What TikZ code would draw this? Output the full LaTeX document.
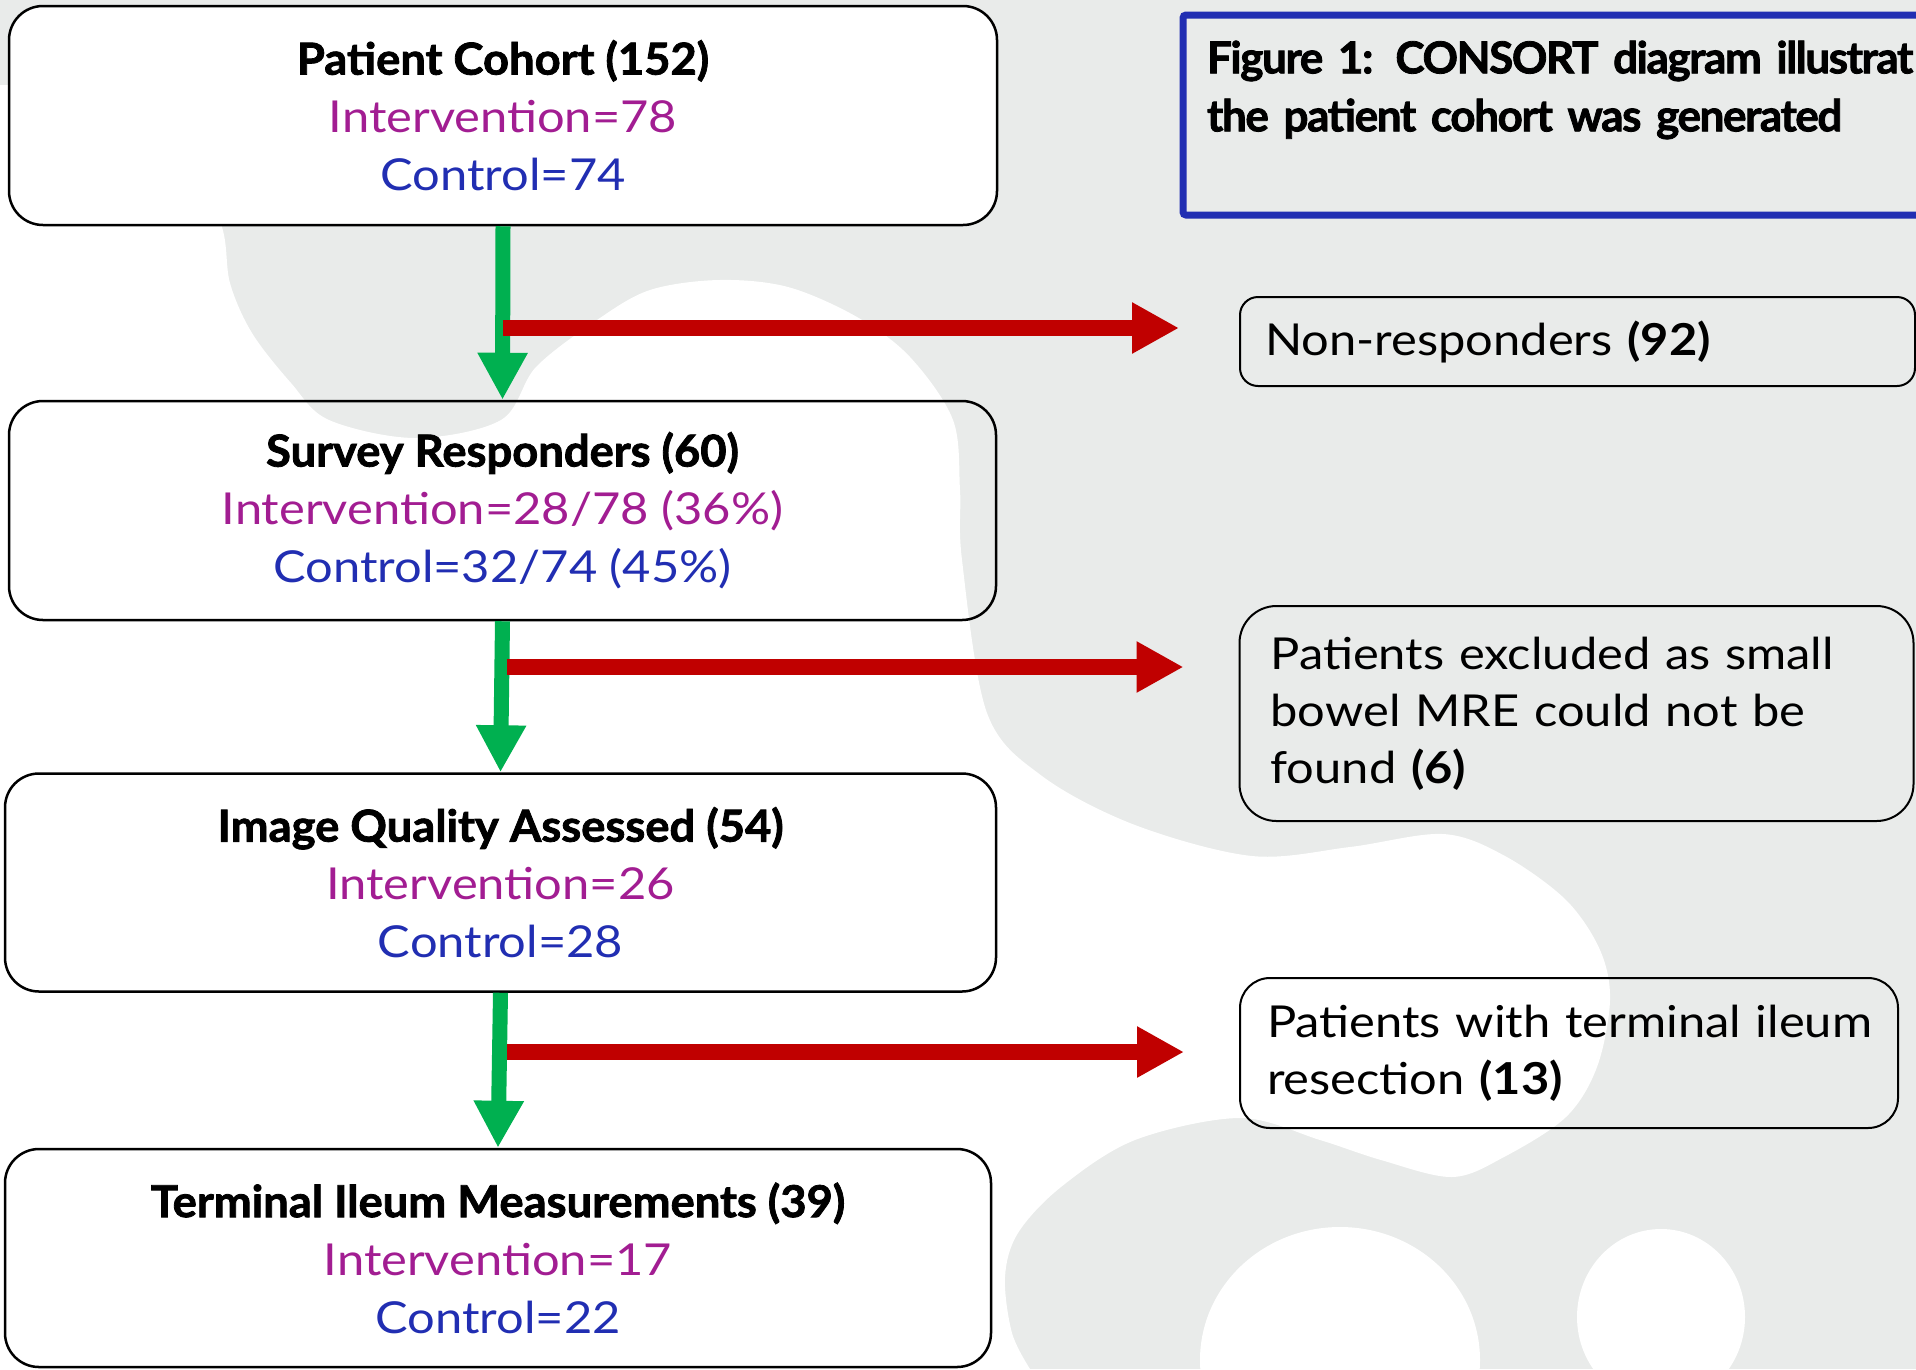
\documentclass[tikz,border=0pt]{standalone}
\usepackage{fontspec}
\setmainfont{Lato}[FakeStretch=1.11]
\newfontfamily\hfont{Lato}[FakeStretch=1.03,FakeBold=1.8]
\newfontfamily\tfont{Lato}[LetterSpace=-3.2,FakeBold=1.8]
\usetikzlibrary{arrows.meta}
\definecolor{bggray}{RGB}{233,235,234}
\definecolor{ivc}{RGB}{162,29,146}
\definecolor{ctl}{RGB}{33,46,178}
\definecolor{gar}{RGB}{0,176,80}
\definecolor{rar}{RGB}{192,0,0}
\tikzset{
  mainbox/.style={draw=black, line width=2.5pt, rounded corners=34pt, align=center,
    inner sep=0pt, font=\fontsize{44}{58}\selectfont},
  sidebox/.style={draw=black, line width=2pt, align=left, inner ysep=0pt,
    font=\fontsize{44}{57}\selectfont},
  garrow/.style={draw=gar, line width=15pt, -{Triangle[width=47pt,length=47pt]}},
  rarrow/.style={draw=rar, line width=16pt, -{Triangle[width=48pt,length=47pt]}}
}
\newcommand{\hd}[1]{{\hfont\bfseries #1}}
\newcommand{\td}[1]{{\tfont\bfseries #1}}
\begin{document}
\begin{tikzpicture}[x=1pt,y=-1pt]
\useasboundingbox (0,0) rectangle (1916,1369);
\clip (0,0) rectangle (1916,1369);
% background
\fill[bggray] (0,0) rectangle (1916,1369);
\fill[white] (0,85) -- plot[smooth, tension=0.55] coordinates {(0,85) (110,95) (190,150) (222,227) (230,283) (252,333) (291,383) (329,420) (415,438) (501,420) (536,367) (597,320) (650,290) (719,280) (788,287) (857,317) (910,357) (953,420) (960,490) (962,560) (987,713) (1042,776) (1135,825) (1252,856) (1350,847) (1443,834) (1505,856) (1566,900) (1600,950) (1610,1000) (1597,1067) (1566,1117) (1504,1157) (1452,1177) (1381,1160) (1320,1140) (1240,1118) (1135,1140) (1061,1187) (1018,1233) (1005,1277) (1012,1333) (1030,1369)} -- (0,1369) -- cycle;
\fill[white] (1340,1360) ellipse [x radius=140, y radius=133];
\fill[white] (1661,1317) ellipse [x radius=84, y radius=88];

% main boxes
\node[mainbox, fill=white, minimum width=988pt, minimum height=219pt] (b1) at (503,115.5)
  {\hd{Patient Cohort (152)}\\{\color{ivc}Intervention=78}\\{\color{ctl}Control=74}};
\node[mainbox, minimum width=987pt, minimum height=219pt] (b2) at (502.5,510.5)
  {\hd{Survey Responders (60)}\\{\color{ivc}Intervention=28/78 (36\%)}\\{\color{ctl}Control=32/74 (45\%)}};
\node[mainbox, minimum width=991pt, minimum height=218pt] (b3) at (500.5,882.5)
  {\hd{Image Quality Assessed (54)}\\{\color{ivc}Intervention=26}\\{\color{ctl}Control=28}};
\node[mainbox, minimum width=986pt, minimum height=218pt] (b4) at (498,1258)
  {\hd{Terminal Ileum Measurements (39)}\\{\color{ivc}Intervention=17}\\{\color{ctl}Control=22}};

% title
\node[draw=ctl, line width=7pt, rounded corners=3pt, align=left, inner xsep=24pt, inner ysep=0pt,
  text width=728pt, minimum height=200pt, font=\fontsize{44}{58}\selectfont] (title) at (1571,115)
  {\td{Figure 1: CONSORT diagram illustrat}\\\td{the patient cohort was generated}\\\mbox{}};

% side boxes
\node[sidebox, rounded corners=18pt, inner xsep=25pt, text width=625pt, minimum height=89pt] (nr) at (1577.5,341.5)
  {Non-responders \textbf{(92)}};
\node[sidebox, rounded corners=37pt, inner xsep=31pt, text width=612pt, minimum height=215pt] (ex) at (1576.5,713.5)
  {Patients excluded as small\\bowel MRE could not be\\found \textbf{(6)}};
\node[sidebox, rounded corners=30pt, inner xsep=27pt, text width=604pt, minimum height=150pt] (rs) at (1569,1053)
  {\mbox{Patients with terminal ileum}\\resection \textbf{(13)}};

% arrows
\draw[garrow] (b1.south) -- (b2.north);
\draw[garrow] (b2.south) -- (b3.north);
\draw[garrow] (b3.south) -- (b4.north);
\coordinate (j1) at (503,328);
\coordinate (j2) at (507,667);
\coordinate (j3) at (507,1052);
\draw[rarrow, shorten >=60pt] (j1) -- (j1 -| nr.west);
\draw[rarrow, shorten >=55pt] (j2) -- (j2 -| ex.west);
\draw[rarrow, shorten >=55pt] (j3) -- (j3 -| rs.west);
\end{tikzpicture}
\end{document}
